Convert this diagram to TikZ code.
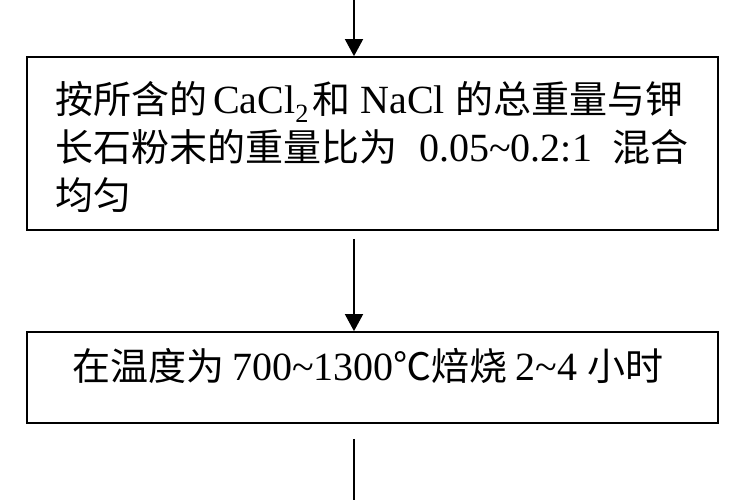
\documentclass[tikz,border=0pt]{standalone}
\usepackage{fontspec}
\setmainfont{Liberation Serif}[Scale=1.053]
\newfontfamily\cjk{Noto Sans CJK SC}
\usetikzlibrary{arrows.meta}
\newcommand\zh[1]{{\cjk #1}}
\newcommand\tl{\textasciitilde}
\newcommand\subtwo{\raisebox{-0.22em}{\fontsize{25}{25}\selectfont 2}}
\begin{document}
\begin{tikzpicture}[x=1pt,y=-1pt,
  boxstyle/.style={draw,line width=1.7pt,minimum width=691pt,inner sep=0pt},
  linetext/.style={anchor=base west,inner sep=0pt,font=\fontsize{38}{48}\selectfont},
  arr/.style={line width=1.6pt,-{Triangle[width=18pt,length=17pt]}},
  plain/.style={line width=1.6pt}]
\useasboundingbox (0,0) rectangle (750,500);
\node[boxstyle,minimum height=173pt] (b1) at (372.5,143.5) {};
\node[boxstyle,minimum height=91pt] (b2) at (372.5,377.5) {};
\node[linetext] (l1) at (55,114) {\zh{按所含的}\hspace{6pt}CaCl\subtwo\hspace{4pt}\zh{和}\hspace{10pt}NaCl\hspace{10pt}\zh{的总重量与钾}};
\node[linetext] (l2) at (55,162) {\zh{长石粉末的重量比为}\hspace{22pt}0.05\tl0.2:1\hspace{20pt}\zh{混合}};
\node[linetext] (l3) at (55,210) {\zh{均匀}};
\node[linetext] (l4) at (72,380) {\zh{在温度为}\hspace{8pt}700\tl1300\zh{℃焙烧}\hspace{8pt}2\tl4\hspace{10pt}\zh{小时}};
\coordinate (top) at (354,0);
\coordinate (bot) at (354,500);
\draw[arr] (top) -- (top |- b1.north);
\draw[arr,shorten <=8pt] (b1.south -| top) -- (b2.north -| top);
\draw[plain,shorten <=15pt] (b2.south -| bot) -- (bot);
\end{tikzpicture}
\end{document}
